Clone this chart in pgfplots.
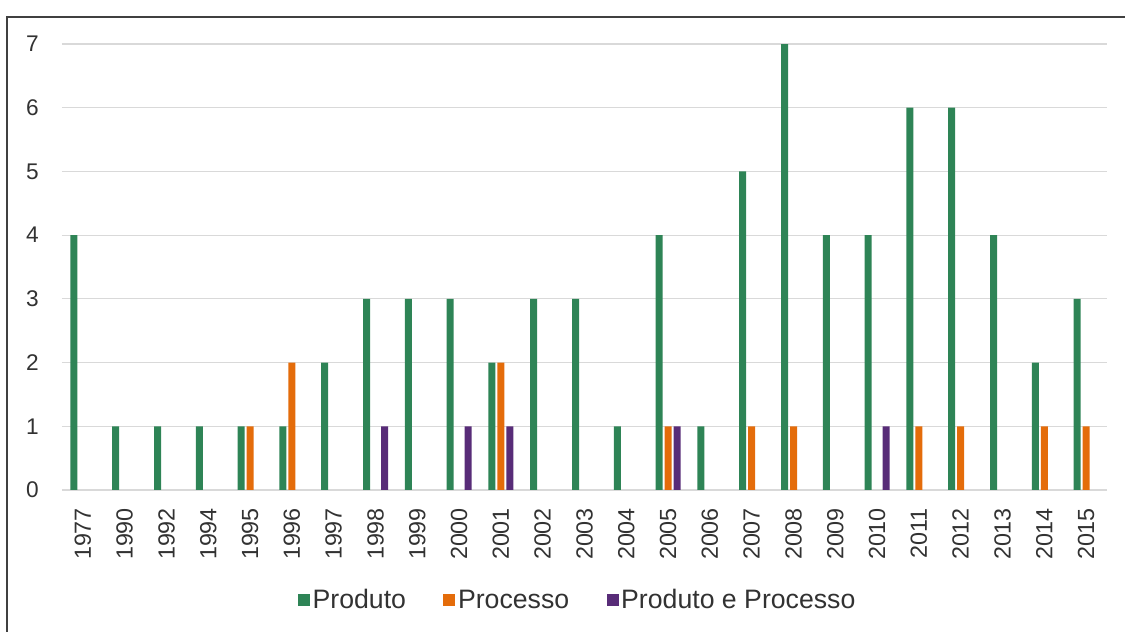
\documentclass[border=0pt]{standalone}
\usepackage{pgfplots}
\pgfplotsset{compat=1.18}
\usepackage{fontspec}
\setmainfont{Liberation Sans}
\definecolor{cgreen}{RGB}{46,132,86}
\definecolor{corange}{RGB}{228,108,10}
\definecolor{cpurple}{RGB}{88,44,120}
\definecolor{ctext}{RGB}{50,50,50}
\begin{document}
\begin{tikzpicture}
\useasboundingbox (0,0) rectangle (843.75pt,474pt);
\begin{axis}[
  at={(46.5pt,106.5pt)}, anchor=south west,
  width=783.75pt, height=334.5pt, scale only axis,
  xmin=-0.5, xmax=24.5, ymin=0, ymax=7,
  ybar=1.5pt, bar width=5.25pt,
  axis line style={draw=none}, tick style={draw=none},
  major tick length=0pt,
  ytick={0,1,2,3,4,5,6,7},
  ymajorgrids, grid style={draw=black!15, line width=0.9pt},
  xtick={0,...,24},
  xticklabels={1977,1990,1992,1994,1995,1996,1997,1998,1999,2000,2001,2002,2003,2004,2005,2006,2007,2008,2009,2010,2011,2012,2013,2014,2015},
  xticklabel shift=10pt,
  x tick label style={rotate=90, anchor=east, font=\fontsize{17.5}{20}\selectfont, text=ctext},
  y tick label style={anchor=east, font=\fontsize{17}{20}\selectfont, text=ctext, xshift=-14pt},
  /pgf/number format/assume math mode=true,
  legend style={at={(0.4938,-0.2466)}, anchor=center, draw=none, fill=none,
    legend columns=3, font=\fontsize{20}{23}\selectfont, text=ctext,
    /tikz/every even column/.append style={column sep=26pt}},
  legend image code/.code={\fill[#1] (0pt,-4.5pt) rectangle (9pt,4.5pt);},
]
\addplot[fill=cgreen, draw=none] coordinates {(0,4)(1,1)(2,1)(3,1)(4,1)(5,1)(6,2)(7,3)(8,3)(9,3)(10,2)(11,3)(12,3)(13,1)(14,4)(15,1)(16,5)(17,7)(18,4)(19,4)(20,6)(21,6)(22,4)(23,2)(24,3)};
\addlegendentry{Produto}
\addplot[fill=corange, draw=none] coordinates {(4,1)(5,2)(10,2)(14,1)(16,1)(17,1)(20,1)(21,1)(23,1)(24,1)};
\addlegendentry{Processo}
\addplot[fill=cpurple, draw=none] coordinates {(7,1)(9,1)(10,1)(14,1)(19,1)};
\addlegendentry{Produto e Processo}
\end{axis}
\draw[line width=1.5pt, black!75] (5.6pt,0pt) -- (5.6pt,461.25pt) -- (843.75pt,461.25pt);
\end{tikzpicture}
\end{document}
